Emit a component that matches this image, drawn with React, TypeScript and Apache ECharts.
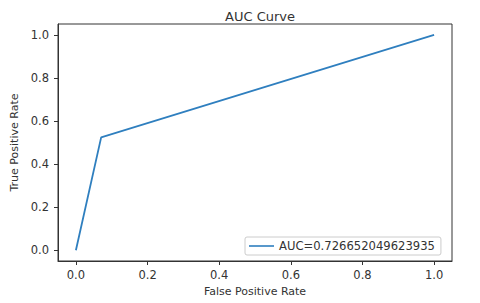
import React, { useEffect, useRef } from "react";
import * as echarts from "echarts";

const fpr = [0, 0.0705, 1];
const tpr = [0, 0.524, 1];
const seriesName = "AUC=0.726652049623935";
const title = "AUC Curve";
const xName = "False Positive Rate";
const yName = "True Positive Rate";

const font = "DejaVu Sans";
const textColor = "#333";
const lineColor = "#2f7fbf";

function fmt(v: number) {
  const r = Math.round(v * 10) / 10;
  if (Math.abs(v - r) > 1e-6) return "";
  if (Math.round(v * 10) % 2 !== 0) return "";
  return r.toFixed(1);
}

export default function App() {
  const ref = useRef<HTMLDivElement>(null);
  useEffect(() => {
    const chart = echarts.init(ref.current!, undefined, { renderer: "svg" });
    const axisCommon = {
      type: "value" as const,
      min: -0.05,
      max: 1.05,
      splitNumber: 5,
      splitLine: { show: false },
      axisLine: { show: true, onZero: false, lineStyle: { color: "#333", width: 1 } },
      axisTick: { show: true, length: 4, lineStyle: { color: "#333" } },
      nameLocation: "middle" as const,
      nameTextStyle: { fontFamily: font, fontSize: 11, color: textColor },
    };
    chart.setOption({
      animation: false,
      title: {
        text: title,
        left: 255,
        textAlign: "center",
        top: 5,
        textStyle: { fontFamily: font, fontSize: 13, fontWeight: "normal", color: textColor },
      },
      grid: { left: 58, right: 28, top: 24, bottom: 42, show: true, borderColor: "#333", borderWidth: 1 },
      xAxis: {
        ...axisCommon,
        name: xName,
        nameGap: 23,
        axisLabel: { formatter: fmt, fontFamily: font, fontSize: 11.5, color: textColor, margin: 8, showMinLabel: false, showMaxLabel: false },
      },
      yAxis: {
        ...axisCommon,
        name: yName,
        nameGap: 37,
        axisLabel: { formatter: fmt, fontFamily: font, fontSize: 11.5, color: textColor, margin: 9, showMinLabel: false, showMaxLabel: false },
      },
      legend: {
        left: 245,
        top: 237,
        padding: [3, 6, 3, 4],
        borderColor: "#ccc",
        borderWidth: 1,
        borderRadius: 2,
        itemWidth: 25,
        itemHeight: 10,
        itemGap: 9,
        textStyle: { fontFamily: font, fontSize: 11.6, color: textColor },
        data: [
          {
            name: seriesName,
            icon: "path://M0,4.2 L25,4.2 L25,5.8 L0,5.8 Z",
            itemStyle: { color: lineColor, borderWidth: 0 },
          },
        ],
      },
      series: [
        {
          name: seriesName,
          type: "line",
          data: fpr.map((x, i) => [x, tpr[i]]),
          symbol: "none",
          lineStyle: { color: lineColor, width: 1.8 },
          itemStyle: { color: lineColor },
        },
      ],
    });
    return () => chart.dispose();
  }, []);
  return <div ref={ref} style={{ width: 480, height: 303, position: "absolute", left: 0, top: 0, background: "#fff" }} />;
}
